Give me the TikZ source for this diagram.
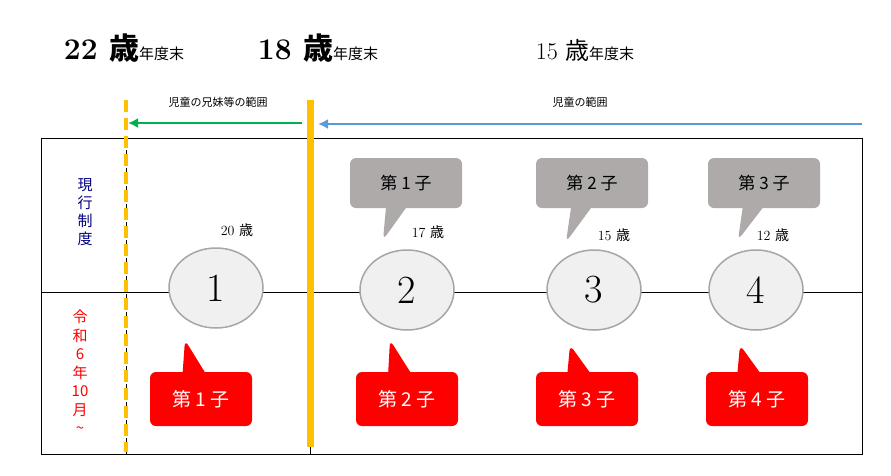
\documentclass[tikz,border=0pt]{standalone}
\usepackage{fontspec}
\newfontfamily\jp{Noto Sans CJK JP}
\usetikzlibrary{shapes.callouts,shapes.geometric,arrows.meta}
\definecolor{amber}{HTML}{FFC000}
\definecolor{shade}{HTML}{AEAAAA}
\definecolor{arrowgreen}{HTML}{00B050}
\definecolor{arrowblue}{HTML}{5B9BD5}
\begin{document}
\begin{tikzpicture}[x=1pt,y=-1pt,
    child/.style={ellipse,draw=gray!70,line width=1.5pt,fill=black!6,minimum width=94pt,minimum height=80pt,font=\fontsize{40}{40}\selectfont},
    age/.style={font=\fontsize{14}{14}\selectfont},
    graytag/.style={rectangle callout,fill=shade,rounded corners=6pt,minimum width=112pt,minimum height=50pt,callout pointer width=20pt,font=\jp\fontsize{17}{17}\selectfont},
    redtag/.style={rectangle callout,fill=red,text=white,rounded corners=6pt,minimum width=102pt,minimum height=54pt,callout pointer width=22pt,font=\jp\fontsize{19}{19}\selectfont}]
\useasboundingbox (0,0) rectangle (891,475);
% table
\draw[thick] (41,138) rectangle (862,454);
\draw[thick] (41,292) -- (862,292);
\draw[dash pattern=on 4pt off 2pt] (126,138) -- (126,454);
\draw[thick] (310,138) -- (310,454);
% limits
\draw[amber,line width=4pt,dash pattern=on 12pt off 6pt] (126,100) -- (126,452);
\draw[amber,line width=7pt] (310,100) -- (310,447);
% headings
\node[font=\fontsize{30}{30}\selectfont\bfseries] (h22) at (124,48) {22 {\jp\bfseries 歳}{\jp\mdseries\fontsize{15}{15}\selectfont 年度末}};
\node[font=\fontsize{30}{30}\selectfont\bfseries] (h18) at (318,48) {18 {\jp\bfseries 歳}{\jp\mdseries\fontsize{15}{15}\selectfont 年度末}};
\node[font=\fontsize{24}{24}\selectfont] (h15) at (585,50) {15 {\jp 歳}{\jp\fontsize{15}{15}\selectfont 年度末}};
% ranges
\node[font=\jp\fontsize{11}{11}\selectfont] (sib) at (218,102) {児童の兄妹等の範囲};
\node[font=\jp\fontsize{11}{11}\selectfont] (kid) at (580,102) {児童の範囲};
\coordinate (g1) at (302,123);
\coordinate (g2) at (128,123);
\coordinate (b1) at (862,124);
\coordinate (b2) at (318,124);
\draw[arrowgreen,line width=2pt,-{Latex[length=10pt,width=10pt]}] (g1) -- (g2);
\draw[arrowblue,line width=2pt,-{Latex[length=10pt,width=10pt]}] (b1) -- (b2);
% row labels
\node[font=\jp\fontsize{15}{18}\selectfont,text=blue!50!black,align=center] (now) at (85,212) {現\\行\\制\\度};
\node[font=\jp\fontsize{15}{18.5}\selectfont,text=red,align=center] (new) at (80,372) {令\\和\\6\\年\\10\\月\\\textasciitilde};
% children
\node[child] (c1) at (216,288) {1};
\node[child] (c2) at (407,290) {2};
\node[child] (c3) at (594,290) {3};
\node[child] (c4) at (756,290) {4};
\node[age] (a1) at (237,230) {20 {\jp 歳}};
\node[age] (a2) at (428,232) {17 {\jp 歳}};
\node[age] (a3) at (614,235) {15 {\jp 歳}};
\node[age] (a4) at (773,235) {12 {\jp 歳}};
% current order
\node[graytag,callout absolute pointer={(383,240)}] (p1) at (406,183) {第 1 子};
\node[graytag,callout absolute pointer={(566,242)}] (p2) at (592,183) {第 2 子};
\node[graytag,callout absolute pointer={(738,240)}] (p3) at (764,183) {第 3 子};
% new order
\node[redtag,callout absolute pointer={(185,340)}] (q1) at (201,399) {第 1 子};
\node[redtag,callout absolute pointer={(390,340)}] (q2) at (407,399) {第 2 子};
\node[redtag,callout absolute pointer={(570,345)}] (q3) at (587,399) {第 3 子};
\node[redtag,callout absolute pointer={(740,345)}] (q4) at (757,399) {第 4 子};
\end{tikzpicture}
\end{document}
